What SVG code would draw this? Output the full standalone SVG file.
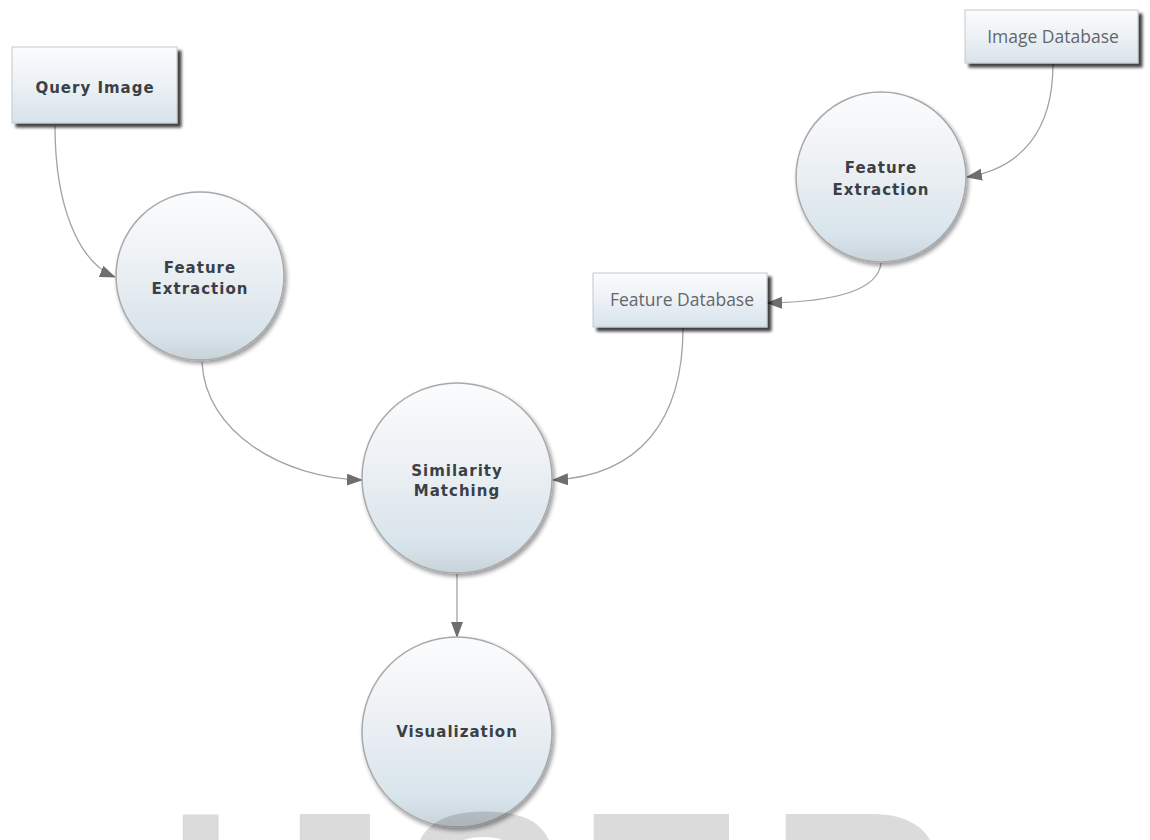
<svg xmlns="http://www.w3.org/2000/svg" width="1150" height="840" viewBox="0 0 1150 840">
  <defs>
    <linearGradient id="gCircle" x1="0" y1="0" x2="0" y2="1">
      <stop offset="0" stop-color="#fbfcfd"/>
      <stop offset="0.35" stop-color="#f0f3f6"/>
      <stop offset="0.6" stop-color="#e4ebf0"/>
      <stop offset="0.85" stop-color="#d8e4ec"/>
      <stop offset="1" stop-color="#c8d2d9"/>
    </linearGradient>
    <linearGradient id="gBox" x1="0" y1="0" x2="0" y2="1">
      <stop offset="0" stop-color="#fbfcfd"/>
      <stop offset="0.5" stop-color="#ecf1f5"/>
      <stop offset="1" stop-color="#d7e3eb"/>
    </linearGradient>
    <filter id="shCircle" x="-20%" y="-20%" width="140%" height="140%">
      <feGaussianBlur in="SourceAlpha" stdDeviation="2"/>
      <feOffset dx="2" dy="3" result="b"/>
      <feComponentTransfer><feFuncA type="linear" slope="0.4"/></feComponentTransfer>
      <feMerge><feMergeNode/><feMergeNode in="SourceGraphic"/></feMerge>
    </filter>
    <filter id="shBox" x="-10%" y="-20%" width="130%" height="150%">
      <feGaussianBlur in="SourceAlpha" stdDeviation="1.5"/>
      <feOffset dx="4" dy="4" result="b"/>
      <feComponentTransfer><feFuncA type="linear" slope="0.75"/></feComponentTransfer>
      <feMerge><feMergeNode/><feMergeNode in="SourceGraphic"/></feMerge>
    </filter>
    <marker id="arr" viewBox="0 0 16 12" refX="15" refY="6" markerWidth="16" markerHeight="12" markerUnits="userSpaceOnUse" orient="auto">
      <path d="M0,0 L16,6 L0,12 Z" fill="#6e6e6e"/>
    </marker>
    <style>
      .circle { fill: url(#gCircle); stroke: #a9a9a9; stroke-width: 1.5; filter: url(#shCircle); }
      .box { fill: url(#gBox); stroke: #c4c8cc; stroke-width: 1; filter: url(#shBox); }
      .bold { font-family: "DejaVu Sans", Verdana, sans-serif; font-weight: bold; font-size: 15px; letter-spacing: 1px; fill: #3b4046; text-anchor: middle; }
      .reg { font-family: "Open Sans", "Noto Sans", sans-serif; font-size: 17.5px; fill: #62676c; text-anchor: middle; }
      .conn { fill: none; stroke: #a3a3a3; stroke-width: 1.3; marker-end: url(#arr); }
      .wm { font-family: "Liberation Sans", Arial, sans-serif; font-weight: bold; font-size: 250px; fill: #000; fill-opacity: 0.14; }
    </style>
  </defs>
  <rect width="1150" height="840" fill="#ffffff"/>

  <g id="connectors">
    <path class="conn" d="M55,126 C55,205 78,262 115,277"/>
    <path class="conn" d="M1053,64 C1053,130 1022,168 967,177"/>
    <path class="conn" d="M881,263 C878,292 830,302 767,303"/>
    <path class="conn" d="M202,362 C205,432 282,478 362,480"/>
    <path class="conn" d="M683,328 C683,420 640,476 553,480"/>
    <path class="conn" d="M457,574 L457,637"/>
  </g>

  <g id="query-image">
    <rect class="box" x="12" y="47" width="165" height="76"/>
    <text class="bold" x="95" y="93">Query Image</text>
  </g>

  <g id="image-database">
    <rect class="box" x="965" y="10" width="173" height="53"/>
    <text class="reg" x="1053" y="43">Image Database</text>
  </g>

  <g id="feature-database">
    <rect class="box" x="593" y="273" width="174" height="54"/>
    <text class="reg" x="682" y="306">Feature Database</text>
  </g>

  <g id="feature-extraction-left">
    <circle class="circle" cx="200" cy="276" r="84"/>
    <text class="bold" x="200" y="273">Feature</text>
    <text class="bold" x="200" y="294">Extraction</text>
  </g>

  <g id="feature-extraction-right">
    <circle class="circle" cx="881" cy="177" r="85"/>
    <text class="bold" x="881" y="173">Feature</text>
    <text class="bold" x="881" y="195">Extraction</text>
  </g>

  <g id="similarity-matching">
    <circle class="circle" cx="457" cy="478" r="95"/>
    <text class="bold" x="457" y="476">Similarity</text>
    <text class="bold" x="457" y="496">Matching</text>
  </g>

  <g id="visualization">
    <circle class="circle" cx="457" cy="732" r="95"/>
    <text class="bold" x="457" y="737">Visualization</text>
  </g>

  <g id="watermark">
    <text class="wm" x="166" y="987">I</text>
    <text class="wm" x="248" y="987">J</text>
    <text class="wm" x="401" y="987">S</text>
    <text class="wm" x="577" y="987">E</text>
    <text class="wm" x="769" y="987">R</text>
  </g>
</svg>
